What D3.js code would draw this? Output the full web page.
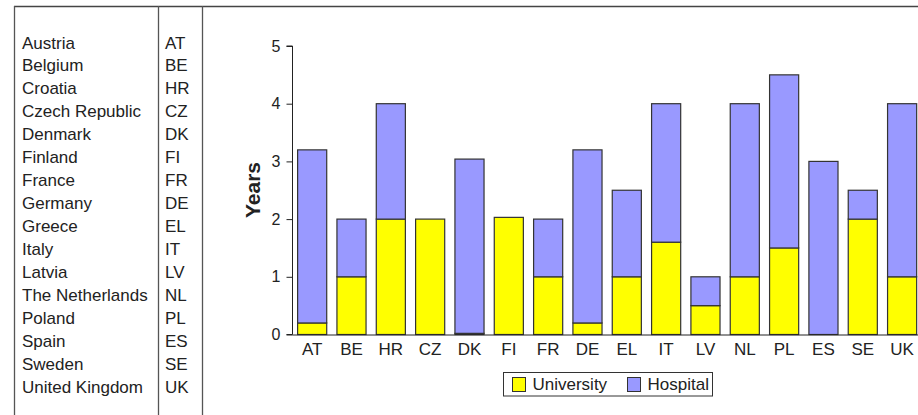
<!DOCTYPE html>
<html>
<head>
<meta charset="utf-8">
<script src="https://cdn.jsdelivr.net/npm/d3@7"></script>
<style>
    body { margin: 0; background: #fff; }
    svg { display: block; font-family: "Liberation Sans", Arial, sans-serif; }
</style>
</head>
<body>
<script>
"use strict";

const countries = ["Austria", "Belgium", "Croatia", "Czech Republic", "Denmark", "Finland", "France",
    "Germany", "Greece", "Italy", "Latvia", "The Netherlands", "Poland", "Spain", "Sweden", "United Kingdom"];
const codes = ["AT", "BE", "HR", "CZ", "DK", "FI", "FR", "DE", "EL", "IT", "LV", "NL", "PL", "ES", "SE", "UK"];
const university = [0.2, 1, 2, 2, 0.02, 2.03, 1, 0.2, 1, 1.6, 0.5, 1, 1.5, 0, 2, 1];
const hospital = [3, 1, 2, 0, 3.02, 0, 1, 3, 1.5, 2.4, 0.5, 3, 3, 3, 0.5, 3];
const yTicks = [0, 1, 2, 3, 4, 5];
const seriesNames = ["University", "Hospital"];

const colors = { University: "#FFFF00", Hospital: "#9999FF" };

const measurements = {
    width: 918,
    height: 415,
    plotLeft: 292.5,
    plotTop: 46,
    plotBottom: 334.5,
    step: 39.33
};

const svg = d3.select("body").append("svg")
    .attr("width", measurements.width)
    .attr("height", measurements.height);

// frame around the table and the chart
svg.append("line").attr("x1", 14).attr("x2", 918).attr("y1", 6.5).attr("y2", 6.5)
    .attr("stroke", "#444").attr("stroke-width", 1.5);
[14.5, 158.5, 202.5].forEach(x => {
    svg.append("line").attr("x1", x).attr("x2", x).attr("y1", 6).attr("y2", 415)
        .attr("stroke", "#555").attr("stroke-width", 1.3);
});

// country table
const rowY = d3.scalePoint().domain(d3.range(countries.length)).range([48.5, 392.5]);
svg.selectAll("text.country")
    .data(countries)
    .enter().append("text")
    .attr("class", "country")
    .attr("x", 22)
    .attr("y", (d, i) => rowY(i))
    .style("font-size", "17px")
    .attr("fill", "#222")
    .text(d => d);
svg.selectAll("text.code")
    .data(codes)
    .enter().append("text")
    .attr("class", "code")
    .attr("x", 165)
    .attr("y", (d, i) => rowY(i))
    .style("font-size", "17px")
    .attr("fill", "#222")
    .text(d => d);

// scales
const scaleX = d3.scaleBand()
    .domain(codes)
    .range([measurements.plotLeft, measurements.plotLeft + measurements.step * codes.length])
    .paddingInner(0.26)
    .paddingOuter(0.13);

const scaleY = d3.scaleLinear()
    .domain([0, 5])
    .range([measurements.plotBottom, measurements.plotTop]);

// stacked bars
const rows = codes.map((c, i) => ({ code: c, University: university[i], Hospital: hospital[i] }));
const stacked = d3.stack().keys(seriesNames)(rows);

svg.append("g").selectAll("g")
    .data(stacked)
    .enter().append("g")
    .attr("fill", d => colors[d.key])
    .selectAll("rect")
    .data(d => d)
    .enter().append("rect")
    .attr("x", d => scaleX(d.data.code))
    .attr("width", scaleX.bandwidth())
    .attr("y", d => scaleY(d[1]))
    .attr("height", d => scaleY(d[0]) - scaleY(d[1]))
    .attr("stroke", "#333")
    .attr("stroke-width", 1.2);

// y axis
const yAxis = d3.axisLeft(scaleY).tickValues(yTicks).tickSize(6).tickPadding(6).tickFormat(d3.format("d"));
const gy = svg.append("g")
    .attr("transform", `translate(${measurements.plotLeft},0)`)
    .call(yAxis);
gy.select(".domain").attr("stroke", "#222").attr("d", `M-6,${measurements.plotTop}H0V${measurements.plotBottom}H-6`);
gy.selectAll(".tick line").attr("stroke", "#222");
gy.selectAll("text").style("font-size", "16px").attr("fill", "#222")
    .style("font-family", "Liberation Sans, Arial, sans-serif");

// x axis
const xAxis = d3.axisBottom(scaleX).tickSize(0).tickPadding(8);
const gx = svg.append("g")
    .attr("transform", `translate(0,${measurements.plotBottom})`)
    .call(xAxis);
gx.select(".domain").attr("stroke", "#222").attr("d", `M${measurements.plotLeft},0.5H918`);
gx.selectAll("text").style("font-size", "17px").attr("fill", "#222")
    .style("font-family", "Liberation Sans, Arial, sans-serif");

// axis title
svg.append("text")
    .attr("transform", "translate(260,190)rotate(-90)")
    .attr("text-anchor", "middle")
    .style("font-size", "21px")
    .style("font-weight", "bold")
    .attr("fill", "#222")
    .text("Years");

// legend
const legend = svg.append("g").attr("transform", "translate(503.5,372.5)");
legend.append("rect").attr("width", 209).attr("height", 23.5)
    .attr("fill", "#fff").attr("stroke", "#333").attr("stroke-width", 1);
const legendX = [9, 124];
seriesNames.forEach((name, i) => {
    legend.append("rect")
        .attr("x", legendX[i]).attr("y", 5)
        .attr("width", 13).attr("height", 14)
        .attr("fill", colors[name]).attr("stroke", "#333");
    legend.append("text")
        .attr("x", legendX[i] + 20).attr("y", 17.5)
        .style("font-size", "17px")
        .attr("fill", "#222")
        .text(name);
});
</script>
</body>
</html>
